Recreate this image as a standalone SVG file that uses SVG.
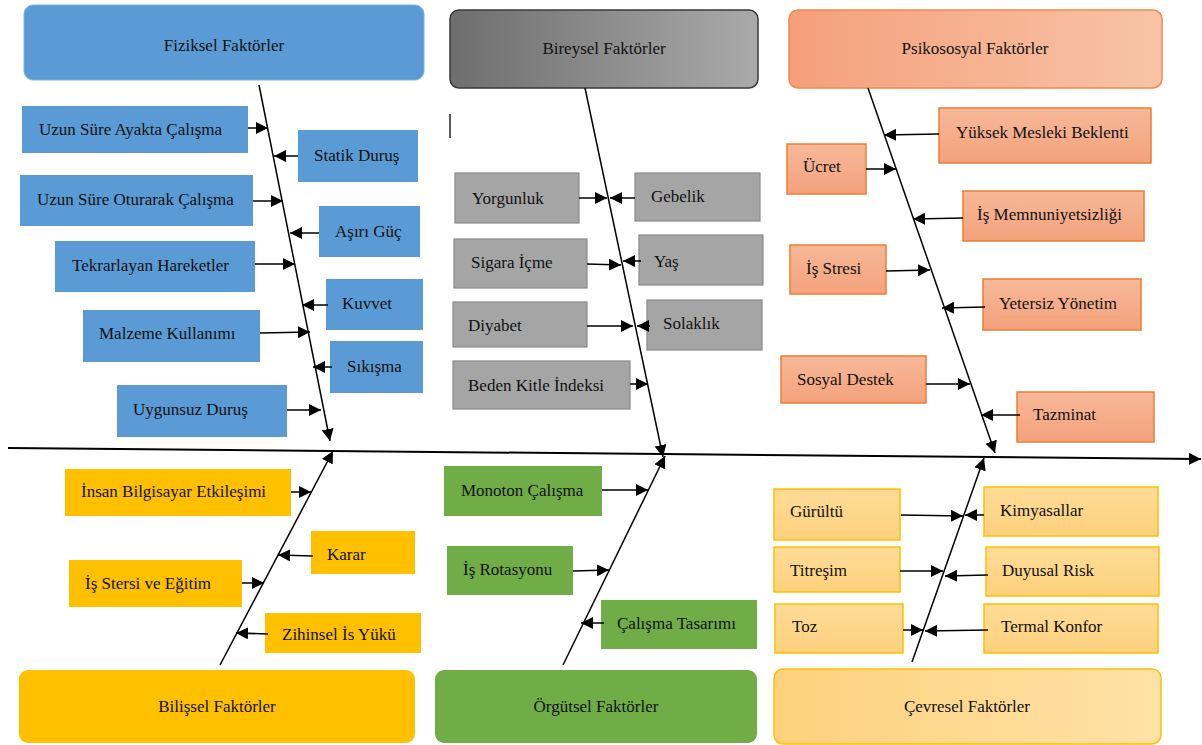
<svg xmlns="http://www.w3.org/2000/svg" width="1202" height="745" viewBox="0 0 1202 745">
<defs>
<linearGradient id="gGray" x1="0" y1="0" x2="1" y2="0"><stop offset="0" stop-color="#6e6e6e"/><stop offset="1" stop-color="#aaaaaa"/></linearGradient>
<linearGradient id="gSalmonH" x1="0" y1="0" x2="1" y2="0"><stop offset="0" stop-color="#f4a07b"/><stop offset="1" stop-color="#f8c3a7"/></linearGradient>
<linearGradient id="gSalmon" x1="0" y1="0" x2="0" y2="1"><stop offset="0" stop-color="#f7b899"/><stop offset="1" stop-color="#f4a27c"/></linearGradient>
<linearGradient id="gSandH" x1="0" y1="0" x2="1" y2="0"><stop offset="0" stop-color="#fdd17c"/><stop offset="1" stop-color="#ffe2a8"/></linearGradient>
<linearGradient id="gSand" x1="0" y1="0" x2="0" y2="1"><stop offset="0" stop-color="#ffdc98"/><stop offset="1" stop-color="#fdd17c"/></linearGradient>
<marker id="ah" markerUnits="userSpaceOnUse" markerWidth="13" markerHeight="12" refX="12" refY="6" orient="auto"><path d="M0,0 L12,6 L0,12 z" fill="#000"/></marker>
</defs>
<style>
text{font-family:"Liberation Serif","Times New Roman",serif;font-size:17px;fill:#111}
.c{text-anchor:middle}
.blue{fill:#5b9bd5}
.gray{fill:#a5a5a5;stroke:#8a8a8a;stroke-width:1.2}
.sal{fill:url(#gSalmon);stroke:#ed7d31;stroke-width:1.5}
.yel{fill:#ffc000}
.grn{fill:#70ad47}
.sand{fill:url(#gSand);stroke:#ffc000;stroke-width:1.5}
#connectors line{stroke:#000;stroke-width:1.5;fill:none}
#connectors .a{marker-end:url(#ah)}
#connectors .spine{stroke-width:2}
</style>

<!-- headers -->
<g id="fiziksel"><rect x="24" y="5" width="400" height="75" rx="9" class="blue" stroke="#7eb0e0" stroke-width="1"/><text x="224" y="51" class="c">Fiziksel Faktörler</text></g>
<g id="bireysel"><rect x="450" y="10" width="308" height="78" rx="9" fill="url(#gGray)" stroke="#3a3a3a" stroke-width="1.5"/><text x="604" y="54" class="c">Bireysel Faktörler</text></g>
<g id="psikososyal"><rect x="789" y="10" width="373" height="78" rx="9" fill="url(#gSalmonH)" stroke="#f08a4b" stroke-width="1.5"/><text x="975" y="54" class="c">Psikososyal Faktörler</text></g>
<g id="bilissel"><rect x="19" y="670" width="396" height="73" rx="9" class="yel"/><text x="217" y="712" class="c">Bilişsel Faktörler</text></g>
<g id="orgutsel"><rect x="435" y="670" width="322" height="73" rx="9" class="grn"/><text x="596" y="712" class="c">Örgütsel Faktörler</text></g>
<g id="cevresel"><rect x="774" y="669" width="387" height="75" rx="9" fill="url(#gSandH)" stroke="#ffc000" stroke-width="1.5"/><text x="967" y="712" class="c">Çevresel Faktörler</text></g>

<!-- fiziksel causes -->
<g id="uzun-ayakta"><rect x="22" y="106" width="226" height="47" class="blue"/><text x="39" y="135">Uzun Süre Ayakta Çalışma</text></g>
<g id="statik-durus"><rect x="298" y="130" width="120" height="52" class="blue"/><text x="314" y="161">Statik Duruş</text></g>
<g id="uzun-oturarak"><rect x="20" y="175" width="233" height="51" class="blue"/><text x="37" y="205">Uzun Süre Oturarak Çalışma</text></g>
<g id="asiri-guc"><rect x="319" y="206" width="101" height="51" class="blue"/><text x="335" y="237">Aşırı Güç</text></g>
<g id="tekrarlayan"><rect x="55" y="241" width="200" height="51" class="blue"/><text x="72" y="271">Tekrarlayan Hareketler</text></g>
<g id="kuvvet"><rect x="326" y="279" width="97" height="51" class="blue"/><text x="342" y="309">Kuvvet</text></g>
<g id="malzeme"><rect x="83" y="310" width="177" height="52" class="blue"/><text x="99" y="339">Malzeme Kullanımı</text></g>
<g id="sikisma"><rect x="330" y="341" width="93" height="52" class="blue"/><text x="347" y="372">Sıkışma</text></g>
<g id="uygunsuz"><rect x="117" y="385" width="170" height="52" class="blue"/><text x="133" y="415">Uygunsuz Duruş</text></g>

<!-- bireysel causes -->
<line x1="450" y1="114" x2="450" y2="138" stroke="#222" stroke-width="1.5"/>
<g id="yorgunluk"><rect x="455" y="173" width="124" height="50" class="gray"/><text x="472" y="204">Yorgunluk</text></g>
<g id="gebelik"><rect x="635" y="173" width="125" height="48" class="gray"/><text x="651" y="202">Gebelik</text></g>
<g id="sigara"><rect x="454" y="239" width="133" height="49" class="gray"/><text x="471" y="268">Sigara İçme</text></g>
<g id="yas"><rect x="639" y="235" width="124" height="50" class="gray"/><text x="654" y="267">Yaş</text></g>
<g id="diyabet"><rect x="453" y="302" width="134" height="45" class="gray"/><text x="468" y="331">Diyabet</text></g>
<g id="solaklik"><rect x="647" y="300" width="115" height="50" class="gray"/><text x="663" y="329">Solaklık</text></g>
<g id="beden"><rect x="453" y="361" width="177" height="48" class="gray"/><text x="468" y="391">Beden Kitle İndeksi</text></g>

<!-- psikososyal causes -->
<g id="yuksek"><rect x="939" y="108" width="212" height="55" class="sal"/><text x="956" y="138">Yüksek Mesleki Beklenti</text></g>
<g id="ucret"><rect x="787" y="144" width="79" height="50" class="sal"/><text x="803" y="172">Ücret</text></g>
<g id="is-memnuniyetsizligi"><rect x="963" y="191" width="181" height="50" class="sal"/><text x="977" y="220">İş Memnuniyetsizliği</text></g>
<g id="is-stresi"><rect x="790" y="245" width="96" height="49" class="sal"/><text x="806" y="274">İş Stresi</text></g>
<g id="yetersiz"><rect x="983" y="279" width="158" height="51" class="sal"/><text x="999" y="309">Yetersiz Yönetim</text><line x1="998" y1="317" x2="1123" y2="317" stroke="#f5a66f" stroke-width="1"/></g>
<g id="sosyal-destek"><rect x="781" y="356" width="145" height="47" class="sal"/><text x="797" y="385">Sosyal Destek</text></g>
<g id="tazminat"><rect x="1017" y="392" width="137" height="50" class="sal"/><text x="1033" y="420">Tazminat</text></g>

<!-- bilissel causes -->
<g id="insan-bilgisayar"><rect x="65" y="469" width="226" height="47" class="yel"/><text x="81" y="497">İnsan Bilgisayar Etkileşimi</text></g>
<g id="karar"><rect x="311" y="531" width="104" height="43" class="yel"/><text x="327" y="560">Karar</text></g>
<g id="is-stersi"><rect x="69" y="560" width="173" height="47" class="yel"/><text x="85" y="589">İş Stersi ve Eğitim</text></g>
<g id="zihinsel"><rect x="265" y="613" width="156" height="40" class="yel"/><text x="282" y="640">Zihinsel İs Yükü</text></g>

<!-- orgutsel causes -->
<g id="monoton"><rect x="444" y="466" width="158" height="50" class="grn"/><text x="461" y="496">Monoton Çalışma</text></g>
<g id="is-rotasyonu"><rect x="447" y="546" width="126" height="49" class="grn"/><text x="463" y="575">İş Rotasyonu</text></g>
<g id="calisma-tasarimi"><rect x="601" y="600" width="156" height="49" class="grn"/><text x="617" y="629">Çalışma Tasarımı</text></g>

<!-- cevresel causes -->
<g id="gurultu"><rect x="774" y="489" width="126" height="51" class="sand"/><text x="790" y="517">Gürültü</text></g>
<g id="kimyasallar"><rect x="984" y="487" width="174" height="49" class="sand"/><text x="1000" y="516">Kimyasallar</text></g>
<g id="titresim"><rect x="774" y="547" width="126" height="45" class="sand"/><text x="790" y="576">Titreşim</text></g>
<g id="duyusal"><rect x="986" y="547" width="173" height="49" class="sand"/><text x="1002" y="576">Duyusal Risk</text></g>
<g id="toz"><rect x="775" y="604" width="128" height="49" class="sand"/><text x="792" y="632">Toz</text></g>
<g id="termal"><rect x="984" y="604" width="174" height="49" class="sand"/><text x="1001" y="632">Termal Konfor</text></g>

<g id="connectors">
<!-- spine -->
<line class="a spine" x1="8" y1="448" x2="1201" y2="459"/>
<!-- bones -->
<line class="a" x1="259" y1="85" x2="330" y2="441"/>
<line class="a" x1="585" y1="88" x2="663" y2="457"/>
<line class="a" x1="868" y1="88" x2="995" y2="453"/>
<line class="a" x1="220" y1="665" x2="333" y2="451"/>
<line class="a" x1="563" y1="665" x2="665" y2="456"/>
<line class="a" x1="912" y1="662" x2="984" y2="458"/>
<!-- fiziksel -->
<line class="a" x1="248" y1="128" x2="268" y2="128"/>
<line class="a" x1="298" y1="156" x2="274" y2="156"/>
<line class="a" x1="253" y1="201" x2="283" y2="201"/>
<line class="a" x1="319" y1="233" x2="290" y2="233"/>
<line class="a" x1="255" y1="264" x2="295" y2="264"/>
<line class="a" x1="328" y1="305" x2="302" y2="305"/>
<line class="a" x1="260" y1="333" x2="310" y2="332"/>
<line class="a" x1="332" y1="367" x2="313" y2="367"/>
<line class="a" x1="287" y1="410" x2="321" y2="410"/>
<!-- bireysel -->
<line class="a" x1="579" y1="198" x2="607" y2="198"/>
<line class="a" x1="635" y1="198" x2="610" y2="198"/>
<line class="a" x1="587" y1="264" x2="621" y2="265"/>
<line class="a" x1="641" y1="261" x2="623" y2="261"/>
<line class="a" x1="587" y1="326" x2="633" y2="326"/>
<line class="a" x1="650" y1="326" x2="637" y2="326"/>
<line class="a" x1="630" y1="384" x2="648" y2="384"/>
<!-- psikososyal -->
<line class="a" x1="939" y1="134" x2="884" y2="135"/>
<line class="a" x1="866" y1="169" x2="896" y2="169"/>
<line class="a" x1="963" y1="218" x2="913" y2="219"/>
<line class="a" x1="886" y1="271" x2="930" y2="270"/>
<line class="a" x1="985" y1="307" x2="942" y2="308"/>
<line class="a" x1="926" y1="384" x2="970" y2="384"/>
<line class="a" x1="1020" y1="415" x2="981" y2="415"/>
<!-- bilissel -->
<line class="a" x1="291" y1="492" x2="311" y2="492"/>
<line class="a" x1="313" y1="556" x2="278" y2="555"/>
<line class="a" x1="242" y1="583" x2="264" y2="583"/>
<line class="a" x1="268" y1="634" x2="236" y2="633"/>
<!-- orgutsel -->
<line class="a" x1="602" y1="490" x2="648" y2="490"/>
<line class="a" x1="573" y1="571" x2="609" y2="570"/>
<line class="a" x1="604" y1="623" x2="581" y2="623"/>
<!-- cevresel -->
<line class="a" x1="901" y1="515" x2="963" y2="516"/>
<line class="a" x1="984" y1="515" x2="965" y2="515"/>
<line class="a" x1="900" y1="571" x2="943" y2="571"/>
<line class="a" x1="988" y1="575" x2="945" y2="576"/>
<line class="a" x1="903" y1="630" x2="923" y2="630"/>
<line class="a" x1="988" y1="630" x2="925" y2="631"/>
</g>
</svg>
